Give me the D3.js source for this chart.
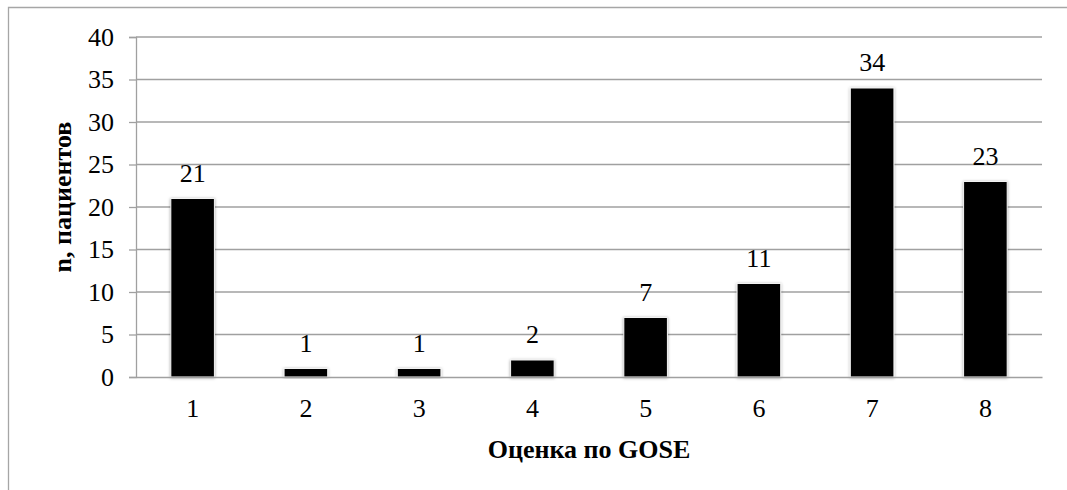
<!DOCTYPE html>
<html>
<head>
<meta charset="utf-8">
<script src="https://cdn.jsdelivr.net/npm/d3@7"></script>
<style>
  html, body { margin: 0; padding: 0; background: #fff; font-family: "Liberation Serif", serif; }
  svg { display: block; }
</style>
</head>
<body>
<svg id="chart" width="1067" height="490"></svg>
<script>
// GOSE score distribution: number of patients per score
const categories = ["1", "2", "3", "4", "5", "6", "7", "8"];
const patients = [21, 1, 1, 2, 7, 11, 34, 23];
const yTicks = [0, 5, 10, 15, 20, 25, 30, 35, 40];
const xTitle = "Оценка по GOSE";
const yTitle = "n, пациентов";

const FONT = "'Liberation Serif', serif";

const svg = d3.select("#chart");
const W = 1067, H = 490;
const margin = { left: 136, right: 25, top: 37, bottom: 113 };
const plotW = W - margin.left - margin.right;
const plotH = H - margin.top - margin.bottom;

const defs = svg.append("defs");
const glow = defs.append("filter").attr("id", "barShadow")
  .attr("x", "-20%").attr("y", "-20%").attr("width", "140%").attr("height", "140%");
glow.append("feDropShadow").attr("dx", 0).attr("dy", 0.6)
  .attr("stdDeviation", 1.6).attr("flood-color", "#000").attr("flood-opacity", 0.35);

// outer frame (top and left edges visible)
svg.append("path")
  .attr("d", `M8.5,${H} V7.5 H${W}`)
  .attr("fill", "none").attr("stroke", "#a6a6a6").attr("stroke-width", 1.3);

const g = svg.append("g").attr("transform", `translate(${margin.left},${margin.top})`);

const x = d3.scaleBand().domain(categories).range([0, plotW]).paddingInner(0.615).paddingOuter(0.3075);
const y = d3.scaleLinear().domain([0, 40]).range([plotH, 0]);

// horizontal gridlines
g.append("g").selectAll("line").data(yTicks.filter(d => d > 0)).join("line")
  .attr("x1", 0).attr("x2", plotW)
  .attr("y1", d => y(d)).attr("y2", d => y(d))
  .attr("stroke", "#a0a0a0").attr("stroke-width", 1.3);

// y axis
const yAxis = g.append("g").call(d3.axisLeft(y).tickValues(yTicks).tickSize(7).tickPadding(15));
yAxis.select(".domain").attr("stroke", "#a0a0a0").attr("stroke-width", 1.3);
yAxis.selectAll(".tick line").attr("stroke", "#a0a0a0").attr("stroke-width", 1.3);
yAxis.selectAll(".tick text")
  .style("font-family", FONT).style("font-size", "26px").style("fill", "#000");

// bars
g.append("g").selectAll("rect").data(patients).join("rect")
  .attr("x", (d, i) => x(categories[i]))
  .attr("width", x.bandwidth())
  .attr("y", d => y(d))
  .attr("height", d => y(0) - y(d))
  .attr("fill", "#000")
  .attr("stroke", "#f2f2f2").attr("stroke-width", 1)
  .attr("filter", "url(#barShadow)");

// x axis
const xAxis = g.append("g").attr("transform", `translate(0,${plotH})`)
  .call(d3.axisBottom(x).tickSize(0).tickPadding(22));
xAxis.select(".domain").attr("stroke", "#a0a0a0").attr("stroke-width", 1.3);
xAxis.selectAll(".tick text")
  .style("font-family", FONT).style("font-size", "26px").style("fill", "#000");

// value labels
g.append("g").selectAll("text").data(patients).join("text")
  .attr("x", (d, i) => x(categories[i]) + x.bandwidth() / 2)
  .attr("y", d => y(d) - 17)
  .attr("text-anchor", "middle")
  .style("font-family", FONT).style("font-size", "26px")
  .text(d => d);

// axis titles
svg.append("text")
  .attr("x", margin.left + plotW / 2).attr("y", 458)
  .attr("text-anchor", "middle")
  .style("font-family", FONT).style("font-size", "26px").style("font-weight", "bold")
  .text(xTitle);

svg.append("text")
  .attr("transform", `translate(71,197) rotate(-90)`)
  .attr("text-anchor", "middle")
  .style("font-family", FONT).style("font-size", "26px").style("font-weight", "bold")
  .text(yTitle);
</script>
</body>
</html>
